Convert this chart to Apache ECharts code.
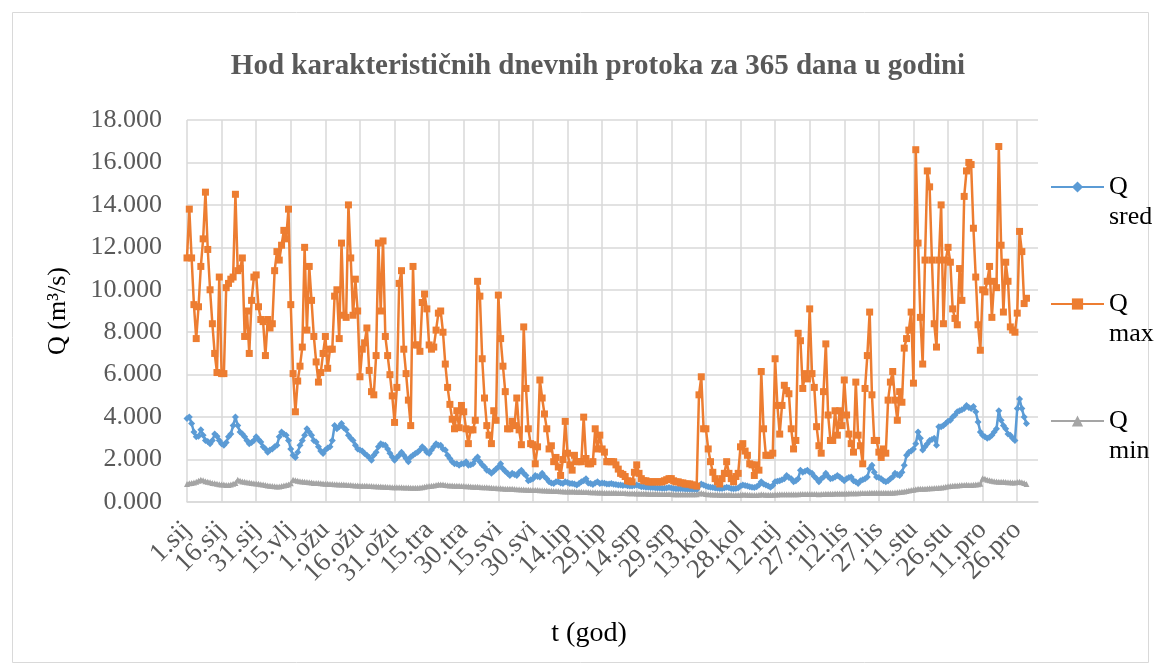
<!DOCTYPE html>
<html>
<head>
<meta charset="utf-8">
<script src="https://cdn.jsdelivr.net/npm/echarts@6/dist/echarts.min.js"></script>
<style>
  html, body { margin: 0; padding: 0; background: #fff; }
  #chart { width: 1161px; height: 668px; }
</style>
</head>
<body>
<div id="chart"></div>
<script>
// tick labels every 15 days
let dayLabels = ['1.sij','16.sij','31.sij','15.vlj','1.ožu','16.ožu','31.ožu','15.tra','30.tra',
    '15.svi','30.svi','14.lip','29.lip','14.srp','29.srp','13.kol','28.kol','12.ruj','27.ruj',
    '12.lis','27.lis','11.stu','26.stu','11.pro','26.pro'];

let yTicks = [0, 2, 4, 6, 8, 10, 12, 14, 16, 18];

// Q sred (m3/s, x1000 as in the labels), one value per day
let qSred = [
    3.93,4.0,3.7,3.3,3.07,3.1,3.4,3.15,2.9,2.85,2.75,2.9,3.2,3.1,2.9,
    2.75,2.67,2.8,3.07,3.2,3.6,4.0,3.6,3.3,3.2,3.07,2.9,2.75,2.8,2.9,
    3.07,2.95,2.83,2.6,2.5,2.35,2.45,2.5,2.6,2.67,3.07,3.3,3.2,3.15,2.9,
    2.5,2.2,2.1,2.35,2.67,2.9,3.15,3.45,3.3,3.15,2.9,2.83,2.6,2.4,2.28,
    2.45,2.55,2.6,2.9,3.6,3.45,3.55,3.7,3.5,3.4,3.15,3.0,2.9,2.67,2.5,
    2.45,2.4,2.28,2.2,2.1,1.97,2.2,2.35,2.6,2.75,2.7,2.67,2.5,2.3,2.12,
    1.97,2.1,2.2,2.35,2.2,2.05,1.9,2.12,2.2,2.28,2.35,2.45,2.6,2.5,2.35,
    2.28,2.45,2.6,2.75,2.67,2.67,2.5,2.45,2.2,2.05,1.9,1.8,1.8,1.73,1.8,
    1.8,1.9,1.73,1.75,1.8,2.0,2.12,1.9,1.75,1.65,1.5,1.45,1.35,1.45,1.55,
    1.65,1.8,1.57,1.45,1.35,1.25,1.35,1.3,1.25,1.4,1.5,1.35,1.25,1.0,1.05,
    1.1,1.25,1.2,1.18,1.35,1.2,1.1,0.95,0.9,0.87,0.95,0.95,0.9,0.87,0.95,
    0.92,0.87,0.87,0.85,0.8,0.87,0.95,1.0,1.1,0.9,0.87,0.82,0.9,0.95,0.87,
    0.9,0.88,0.85,0.85,0.87,0.84,0.82,0.8,0.8,0.78,0.8,0.76,0.75,0.75,0.78,
    0.8,0.76,0.72,0.72,0.7,0.7,0.68,0.68,0.67,0.66,0.66,0.65,0.65,0.66,0.68,
    0.66,0.64,0.63,0.63,0.62,0.62,0.61,0.6,0.6,0.6,0.59,0.58,0.75,0.85,0.8,
    0.75,0.72,0.7,0.68,0.66,0.65,0.64,0.64,0.66,0.7,0.67,0.64,0.62,0.64,0.66,
    0.75,0.8,0.78,0.75,0.72,0.7,0.68,0.72,0.8,0.95,0.85,0.8,0.75,0.7,0.78,
    0.95,0.98,1.0,1.05,1.1,1.25,1.15,1.1,0.95,1.0,1.1,1.5,1.4,1.45,1.5,
    1.4,1.35,1.2,1.1,0.95,1.1,1.18,1.35,1.2,1.1,1.12,1.18,1.25,1.18,1.1,
    1.0,1.1,1.15,1.18,1.0,0.95,0.87,1.0,1.05,1.1,1.18,1.57,1.73,1.4,1.18,
    1.15,1.1,1.0,0.95,1.0,1.1,1.18,1.35,1.3,1.25,1.4,1.73,2.2,2.35,2.4,
    2.5,2.75,3.3,3.0,2.45,2.6,2.75,2.9,2.95,3.0,2.67,3.55,3.55,3.6,3.7,
    3.8,3.85,4.0,4.1,4.25,4.3,4.35,4.4,4.55,4.45,4.4,4.5,4.25,3.77,3.3,
    3.15,3.07,3.0,3.05,3.15,3.3,3.45,4.3,3.85,3.6,3.45,3.2,3.15,3.0,2.9,
    4.4,4.85,4.4,4.0,3.7
];

let qMax = [
    11.5,13.8,11.5,9.3,7.7,9.2,11.1,12.4,14.6,11.9,10.0,8.4,7.0,6.1,10.6,
    6.05,6.05,10.1,10.3,10.5,10.6,14.5,10.9,11.0,11.5,7.8,9.0,7.0,9.5,10.6,
    10.7,9.2,8.6,8.5,6.9,8.6,8.2,8.4,10.9,11.8,11.4,12.1,12.8,12.4,13.8,
    9.3,6.05,4.25,5.7,6.4,7.3,12.0,8.1,11.1,9.5,7.8,6.6,5.65,6.1,7.0,
    7.8,6.3,7.2,7.2,9.7,10.0,7.7,12.2,8.8,8.7,14.0,11.5,8.8,10.5,9.0,
    5.9,7.2,7.5,8.2,6.2,5.2,5.05,6.9,12.2,9.0,12.3,7.8,6.9,6.0,5.0,
    3.75,5.4,10.3,10.9,7.2,6.05,4.8,3.6,11.1,7.4,7.4,7.1,9.4,9.8,9.1,
    7.4,7.2,7.3,8.1,8.9,9.0,8.0,6.5,5.4,4.6,3.9,3.45,4.3,3.5,4.55,
    4.25,3.45,2.75,3.4,3.4,3.85,10.4,9.7,6.75,4.9,3.6,3.15,2.75,4.3,3.85,
    9.75,7.7,6.4,5.2,3.45,3.45,3.8,3.6,4.9,3.4,2.7,8.25,5.35,3.45,2.75,
    2.7,1.8,2.6,5.75,4.9,4.15,3.45,2.5,2.65,1.9,2.1,1.65,1.25,2.0,3.8,
    2.3,1.75,1.5,2.2,1.9,1.9,1.9,4.0,2.05,1.8,1.8,1.9,3.45,2.5,3.15,
    2.5,2.35,1.9,1.9,1.9,1.9,1.75,1.55,1.35,1.3,1.2,1.0,0.98,0.95,1.4,
    1.75,1.35,1.1,1.0,1.0,0.95,0.95,0.95,0.95,0.95,0.95,0.95,1.0,1.05,1.1,
    1.1,1.0,0.95,0.95,0.9,0.9,0.85,0.85,0.85,0.8,0.8,0.75,5.05,5.9,3.45,
    3.45,2.5,1.9,1.4,1.1,0.95,0.85,1.1,1.35,1.9,1.35,1.1,0.95,1.2,1.35,
    2.6,2.75,2.4,2.2,1.8,1.75,1.25,1.75,1.5,6.15,3.45,2.2,2.2,2.2,2.3,
    6.75,4.55,3.2,4.55,5.5,5.25,5.1,3.45,2.5,2.9,7.95,7.6,5.35,6.05,5.8,
    9.1,6.05,5.4,3.55,2.65,2.3,5.2,7.45,4.1,2.9,2.9,4.3,3.15,4.3,3.6,
    5.75,4.1,3.2,2.75,2.35,5.65,3.15,2.65,1.8,5.35,6.9,8.95,5.05,2.9,2.9,
    2.35,2.1,2.5,2.3,4.8,5.65,6.15,4.8,3.85,5.2,4.7,7.25,7.7,8.1,8.95,
    5.6,16.6,12.2,8.7,6.5,11.4,15.6,14.85,11.4,8.4,7.3,11.4,14.0,8.4,11.4,
    12.0,11.3,9.1,8.65,8.35,11.0,9.5,14.4,15.6,16.0,15.9,12.9,10.6,8.35,7.15,
    10.0,9.9,10.4,11.1,8.7,10.4,10.1,16.75,12.1,8.95,11.3,10.4,8.25,8.1,8.0,
    8.9,12.75,11.8,9.35,9.6
];

let qMin = [
    0.85,0.88,0.9,0.92,0.95,1.0,1.05,1.02,0.98,0.95,0.93,0.9,0.88,0.86,0.84,
    0.82,0.82,0.8,0.8,0.83,0.86,0.9,1.05,1.0,0.97,0.95,0.93,0.92,0.9,0.88,
    0.87,0.86,0.84,0.82,0.8,0.78,0.76,0.75,0.74,0.73,0.73,0.75,0.78,0.8,0.82,
    0.88,1.05,1.02,1.0,0.98,0.97,0.95,0.94,0.93,0.92,0.9,0.9,0.89,0.88,0.87,
    0.86,0.86,0.85,0.85,0.84,0.84,0.83,0.82,0.82,0.81,0.8,0.8,0.79,0.78,0.78,
    0.77,0.77,0.76,0.76,0.75,0.75,0.74,0.74,0.73,0.73,0.72,0.72,0.71,0.71,0.7,
    0.7,0.7,0.69,0.69,0.68,0.68,0.68,0.67,0.67,0.67,0.67,0.68,0.7,0.72,0.74,
    0.75,0.76,0.78,0.8,0.82,0.83,0.82,0.8,0.79,0.78,0.78,0.77,0.76,0.76,0.75,
    0.75,0.74,0.74,0.73,0.72,0.72,0.72,0.71,0.7,0.7,0.69,0.68,0.67,0.66,0.66,
    0.65,0.65,0.64,0.63,0.63,0.62,0.62,0.61,0.6,0.6,0.59,0.59,0.58,0.58,0.57,
    0.57,0.56,0.56,0.55,0.55,0.54,0.54,0.53,0.53,0.52,0.52,0.52,0.51,0.51,0.5,
    0.5,0.5,0.49,0.49,0.48,0.48,0.48,0.47,0.47,0.47,0.46,0.46,0.46,0.45,0.45,
    0.45,0.44,0.44,0.44,0.43,0.43,0.43,0.42,0.42,0.42,0.42,0.41,0.41,0.41,0.41,
    0.4,0.4,0.4,0.4,0.4,0.39,0.39,0.39,0.39,0.39,0.38,0.38,0.38,0.38,0.38,
    0.38,0.37,0.37,0.37,0.37,0.37,0.36,0.36,0.36,0.36,0.36,0.36,0.4,0.42,0.4,
    0.38,0.37,0.36,0.35,0.35,0.35,0.34,0.34,0.34,0.34,0.34,0.34,0.33,0.33,0.33,
    0.34,0.35,0.35,0.34,0.34,0.33,0.33,0.33,0.34,0.36,0.35,0.34,0.34,0.34,0.34,
    0.35,0.35,0.36,0.36,0.36,0.37,0.37,0.37,0.36,0.37,0.37,0.38,0.38,0.38,0.38,
    0.38,0.38,0.38,0.38,0.37,0.38,0.38,0.39,0.39,0.39,0.39,0.4,0.4,0.4,0.4,
    0.4,0.4,0.41,0.41,0.41,0.41,0.41,0.42,0.42,0.42,0.42,0.43,0.44,0.44,0.44,
    0.44,0.44,0.43,0.43,0.43,0.44,0.44,0.45,0.46,0.47,0.48,0.5,0.52,0.54,0.56,
    0.58,0.6,0.62,0.63,0.62,0.63,0.64,0.65,0.65,0.66,0.66,0.67,0.68,0.7,0.72,
    0.74,0.75,0.76,0.78,0.78,0.79,0.8,0.8,0.81,0.8,0.8,0.81,0.82,0.84,0.86,
    1.12,1.1,1.05,1.02,1.0,0.98,0.97,0.96,0.95,0.95,0.94,0.93,0.93,0.92,0.92,
    0.94,0.95,0.93,0.9,0.85
];

let seriesNames = ['Q sred', 'Q max', 'Q min'];
let seriesColors = ['#5B9BD5', '#ED7D31', '#A5A5A5'];

let toPairs = function(arr){
    return arr.map(function(v, i){ return [i, v]; });
};

let font = '"Liberation Serif", "Times New Roman", serif';
let labelStyle = { rotate: 45, margin: 24, fontFamily: font, fontSize: 27, color: '#595959' };
let myChart = echarts.init(document.getElementById('chart'));

let option = {
    animation: false,
    backgroundColor: '#fff',
    textStyle: { fontFamily: font },
    title: {
        text: 'Hod karakterističnih dnevnih protoka za 365 dana u godini',
        left: 593,
        top: 46,
        textAlign: 'center',
        textStyle: { fontFamily: font, fontSize: 29, lineHeight: 32, fontWeight: 'bold', color: '#595959' }
    },
    graphic: [
        {
            type: 'rect',
            shape: { x: 12.5, y: 12.5, width: 1136, height: 650 },
            style: { fill: 'none', stroke: '#d9d9d9', lineWidth: 1 },
            silent: true
        },
        {
            // y axis title
            type: 'text',
            x: 58, y: 311,
            rotation: Math.PI / 2,
            style: { text: 'Q (m³/s)', fontFamily: font, fontSize: 26, fill: '#000',
                align: 'center', verticalAlign: 'middle' }
        },
        {
            // x axis title
            type: 'text',
            x: 589, y: 634,
            style: { text: 't (god)', fontFamily: font, fontSize: 28, fill: '#000',
                align: 'center', verticalAlign: 'middle' }
        }
    ],
    legend: {
        orient: 'vertical',
        left: 1045,
        top: 137,
        itemWidth: 53,
        itemHeight: 14,
        itemGap: 27,
        data: seriesNames,
        // blank first line so that "Q" sits level with the icon
        formatter: function(name){ return ' \n' + name.replace(' ', '\n'); },
        textStyle: { fontFamily: font, fontSize: 26, color: '#000', lineHeight: 30 }
    },
    grid: { left: 187, right: 123, top: 120, bottom: 166, outerBoundsMode: 'none' },
    xAxis: [
        {
            type: 'value',
            min: 0,
            max: 369,
            interval: 15,
            axisLine: { show: true, lineStyle: { color: '#d9d9d9', width: 1.5 } },
            axisTick: { show: false },
            splitLine: { show: true, showMaxLine: false, lineStyle: { color: '#d9d9d9', width: 1.5 } },
            axisLabel: Object.assign({}, labelStyle, {
                showMinLabel: false,
                showMaxLabel: false,
                formatter: function(v){
                    return v % 15 === 0 ? (dayLabels[v / 15] || '') : '';
                }
            })
        },
        {
            // same scale, only carries the first label (1.sij), which the
            // overlap check drops on the main axis
            type: 'value',
            position: 'bottom',
            min: 0,
            max: 369,
            interval: 369,
            axisLine: { show: false },
            axisTick: { show: false },
            splitLine: { show: false },
            axisLabel: Object.assign({}, labelStyle, {
                showMinLabel: true,
                showMaxLabel: false,
                formatter: function(v){ return v === 0 ? dayLabels[0] : ''; }
            })
        }
    ],
    yAxis: {
        type: 'value',
        min: yTicks[0],
        max: yTicks[yTicks.length - 1],
        interval: yTicks[1] - yTicks[0],
        axisLine: { show: false },
        axisTick: { show: false },
        splitLine: { lineStyle: { color: '#d9d9d9', width: 1.5 } },
        axisLabel: {
            margin: 25,
            fontFamily: font,
            fontSize: 26,
            color: '#595959',
            formatter: function(v){ return v.toFixed(3); }
        }
    },
    series: [
        {
            name: seriesNames[0], type: 'line', data: toPairs(qSred),
            symbol: 'diamond', symbolSize: 7,
            lineStyle: { color: seriesColors[0], width: 2.5 },
            itemStyle: { color: seriesColors[0] }
        },
        {
            name: seriesNames[1], type: 'line', data: toPairs(qMax),
            symbol: 'rect', symbolSize: 7,
            lineStyle: { color: seriesColors[1], width: 2.5 },
            itemStyle: { color: seriesColors[1] }
        },
        {
            name: seriesNames[2], type: 'line', data: toPairs(qMin),
            symbol: 'triangle', symbolSize: 6,
            lineStyle: { color: seriesColors[2], width: 2.5 },
            itemStyle: { color: seriesColors[2] }
        }
    ]
};

myChart.setOption(option);
</script>
</body>
</html>
